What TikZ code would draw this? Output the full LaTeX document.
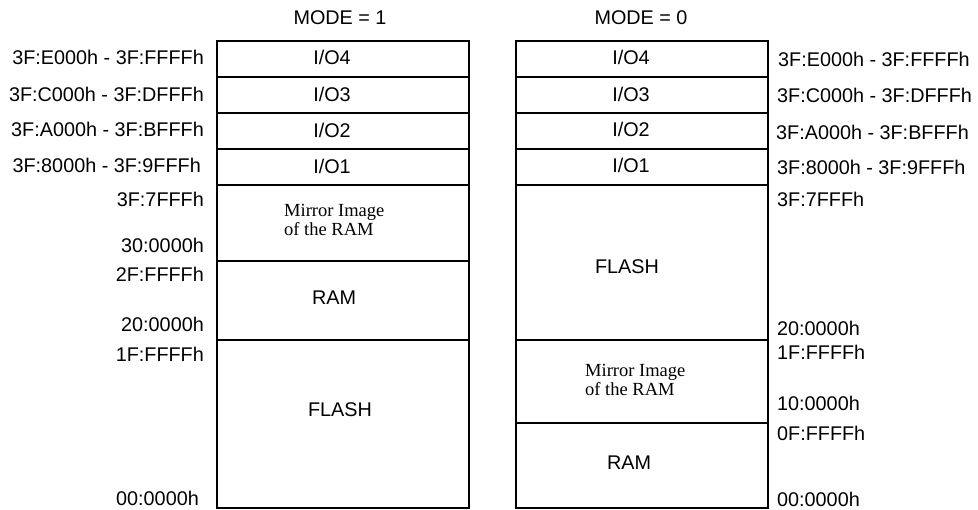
\documentclass[tikz,border=0pt]{standalone}
\usepackage{fontspec}
\setmainfont{Liberation Sans}
\newfontfamily\serifface{Liberation Serif}
\begin{document}
\begin{tikzpicture}[x=1pt,y=-1pt,
  region/.style={draw, line width=1.1pt, inner sep=0pt, outer sep=0pt, minimum width=252pt},
  txt/.style={font=\fontsize{19.8}{23}\selectfont, inner sep=0pt, anchor=base},
  ltxt/.style={txt, anchor=base east},
  rtxt/.style={txt, anchor=base west},
  mtxt/.style={font=\serifface\fontsize{18.5}{22}\selectfont, inner sep=0pt, anchor=base west}]
\useasboundingbox (0,0) rectangle (978,510);
% titles
\node[txt] (m1) at (340,25) {MODE = 1};
\node[txt] (m0) at (641,25) {MODE = 0};
% left column (MODE = 1)
\node[region, minimum height=36pt] (LIO4) at (343,59) {};
\node[region, minimum height=36pt] (LIO3) at (343,95) {};
\node[region, minimum height=36pt] (LIO2) at (343,131) {};
\node[region, minimum height=36pt] (LIO1) at (343,167) {};
\node[region, minimum height=76pt] (LMIR) at (343,223) {};
\node[region, minimum height=79pt] (LRAM) at (343,300.5) {};
\node[region, minimum height=168pt] (LFLA) at (343,424) {};
% right column (MODE = 0)
\node[region, minimum height=36pt] (RIO4) at (642,59) {};
\node[region, minimum height=36pt] (RIO3) at (642,95) {};
\node[region, minimum height=36pt] (RIO2) at (642,131) {};
\node[region, minimum height=36pt] (RIO1) at (642,167) {};
\node[region, minimum height=155pt] (RFLA) at (642,262.5) {};
\node[region, minimum height=83pt] (RMIR) at (642,381.5) {};
\node[region, minimum height=85pt] (RRAM) at (642,465.5) {};
% texts in left column
\node[txt] (tLIO4) at (332,65) {I/O4};
\node[txt] (tLIO3) at (332,102) {I/O3};
\node[txt] (tLIO2) at (332,138) {I/O2};
\node[txt] (tLIO1) at (332,174) {I/O1};
\node[mtxt] (tLMIR1) at (284,217) {Mirror Image};
\node[mtxt] (tLMIR2) at (284,236) {of the RAM};
\node[txt] (tLRAM) at (334,305) {RAM};
\node[txt] (tLFLA) at (340,417) {FLASH};
% texts in right column
\node[txt] (tRIO4) at (631,65) {I/O4};
\node[txt] (tRIO3) at (631,102) {I/O3};
\node[txt] (tRIO2) at (631,137) {I/O2};
\node[txt] (tRIO1) at (631,173) {I/O1};
\node[txt] (tRFLA) at (627,274) {FLASH};
\node[mtxt] (tRMIR1) at (585,377) {Mirror Image};
\node[mtxt] (tRMIR2) at (585,396) {of the RAM};
\node[txt] (tRRAM) at (629,470) {RAM};
% left address labels
\node[ltxt] (a1) at (204,65) {3F:E000h - 3F:FFFFh};
\node[ltxt] (a2) at (204,102) {3F:C000h - 3F:DFFFh};
\node[ltxt] (a3) at (204,137) {3F:A000h - 3F:BFFFh};
\node[ltxt] (a4) at (201,173) {3F:8000h - 3F:9FFFh};
\node[ltxt] (a5) at (204,207) {3F:7FFFh};
\node[ltxt] (a6) at (204,253) {30:0000h};
\node[ltxt] (a7) at (204,282) {2F:FFFFh};
\node[ltxt] (a8) at (204,332) {20:0000h};
\node[ltxt] (a9) at (204,362) {1F:FFFFh};
\node[ltxt] (a10) at (199,506) {00:0000h};
% right address labels
\node[rtxt] (b1) at (778,67) {3F:E000h - 3F:FFFFh};
\node[rtxt] (b2) at (777,103) {3F:C000h - 3F:DFFFh};
\node[rtxt] (b3) at (776,140) {3F:A000h - 3F:BFFFh};
\node[rtxt] (b4) at (777,175) {3F:8000h - 3F:9FFFh};
\node[rtxt] (b5) at (777,207) {3F:7FFFh};
\node[rtxt] (b6) at (777,336) {20:0000h};
\node[rtxt] (b7) at (777,360) {1F:FFFFh};
\node[rtxt] (b8) at (777,411) {10:0000h};
\node[rtxt] (b9) at (777,441) {0F:FFFFh};
\node[rtxt] (b10) at (777,506.5) {00:0000h};
\end{tikzpicture}
\end{document}
